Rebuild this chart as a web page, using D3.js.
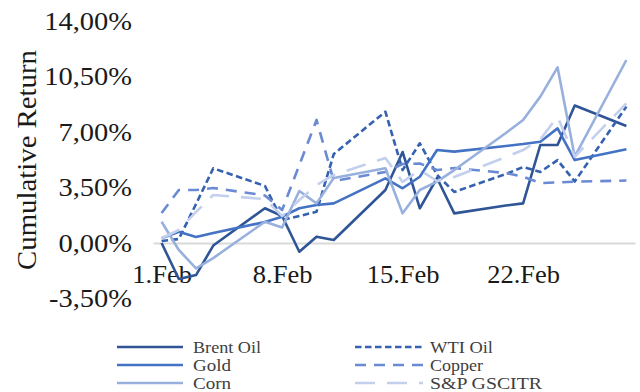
<!DOCTYPE html>
<html>
<head>
<meta charset="utf-8">
<script src="https://cdn.jsdelivr.net/npm/d3@7/dist/d3.min.js"></script>
<style>
  html, body { margin: 0; padding: 0; background: #fff; }
  svg { display: block; font-family: "Liberation Serif", "Times New Roman", Times, serif; }
</style>
</head>
<body>
<svg id="chart" width="640" height="392"></svg>
<script>
// Trading days of February 2022
const tradingDays = [
  "2022-02-01", "2022-02-02", "2022-02-03", "2022-02-04",
  "2022-02-07", "2022-02-08", "2022-02-09", "2022-02-10", "2022-02-11",
  "2022-02-14", "2022-02-15", "2022-02-16", "2022-02-17", "2022-02-18",
  "2022-02-21", "2022-02-22", "2022-02-23", "2022-02-24", "2022-02-25",
  "2022-02-28"
];

// Cumulative returns in percent
const brentOil = [0.00, -2.27, -2.02, -0.16, 2.19, 1.70, -0.55, 0.40, 0.19, 3.34,
                  5.74, 2.19, 4.10, 1.87, 2.36, 2.50, 6.18, 6.18, 8.67, 7.38];
const wtiOil   = [0.13, 0.25, 2.46, 4.71, 3.60, 1.45, 1.70, 1.97, 5.61, 8.28,
                  4.60, 6.29, 4.29, 3.22, 4.35, 4.79, 4.48, 5.23, 3.88, 8.60];
const gold     = [0.30, 0.71, 0.38, 0.63, 1.32, 1.66, 2.19, 2.40, 2.50, 4.08,
                  3.45, 4.18, 5.86, 5.76, 6.12, 6.24, 6.39, 7.23, 5.23, 5.91];
const copper   = [1.89, 3.34, 3.34, 3.47, 3.00, 2.08, 4.92, 7.76, 3.91, 4.48,
                  4.98, 5.01, 4.60, 4.73, 4.41, 4.18, 3.78, 3.82, 3.87, 3.94];
const corn     = [1.34, -0.44, -1.60, -0.95, 1.34, 0.98, 3.28, 2.50, 4.10, 4.71,
                  1.87, 3.34, 3.87, 4.60, 6.94, 7.76, 9.23, 11.08, 5.44, 11.54];
const spGscitr = [0.30, 0.82, 1.96, 3.03, 2.77, 1.70, 2.71, 3.66, 4.29, 5.36,
                  3.85, 4.60, 3.91, 4.16, 5.42, 5.86, 6.54, 7.96, 5.44, 8.81];

const seriesNames = ["Brent Oil", "WTI Oil", "Gold", "Copper", "Corn", "S&P GSCITR"];
const seriesValues = [brentOil, wtiOil, gold, copper, corn, spGscitr];
const seriesColors = ["#2f5597", "#3461b0", "#4472c4", "#6a8ad3", "#98b0de", "#c3d0ed"];
const seriesDashes = [null, "6.5,3.5", null, "11,8", null, "20,12"];

const yTicks = [-3.5, 0, 3.5, 7, 10.5, 14];
const xTickDays = ["2022-02-01", "2022-02-08", "2022-02-15", "2022-02-22"];

const parseDay = d3.timeParse("%Y-%m-%d");
const dates = tradingDays.map(parseDay);

const svg = d3.select("#chart");

// Date axis: one slot per calendar day, centred on the day
const x = d3.scaleTime()
  .domain([new Date(2022, 0, 31, 12), new Date(2022, 1, 28, 12)])
  .range([153, 635]);
const y = d3.scaleLinear().domain([-3.5, 14]).range([298.5, 21]);

const locale = d3.formatLocale({
  decimal: ",", thousands: ".", grouping: [3], currency: ["", "€"], minus: "-"
});
const fmt2 = locale.format(".2f");

// Stretch text horizontally by a factor, keeping its anchor
function widen(sel, factor) {
  sel.each(function () {
    const w = this.getComputedTextLength();
    d3.select(this)
      .attr("textLength", w * factor)
      .attr("lengthAdjust", "spacingAndGlyphs");
  });
}

// Horizontal axis along zero
const xAxis = d3.axisBottom(x)
  .tickValues(xTickDays.map(parseDay))
  .tickFormat(d3.timeFormat("%-d.%b"))
  .tickSize(0)
  .tickSizeOuter(0)
  .tickPadding(22);

const gx = svg.append("g")
  .attr("transform", `translate(0,${y(0)})`)
  .call(xAxis);
gx.attr("font-family", null);
gx.select(".domain").attr("stroke", "#d9d9d9").attr("stroke-width", 2);
gx.selectAll("text")
  .attr("fill", "#1a1a1a")
  .style("font-size", "25px")
  .call(widen, 1.06);

// Vertical axis labels
const yAxis = d3.axisLeft(y)
  .tickValues(yTicks)
  .tickFormat(v => fmt2(v) + "%")
  .tickSize(0)
  .tickPadding(0);
const gy = svg.append("g")
  .attr("transform", "translate(132,0)")
  .call(yAxis);
gy.attr("font-family", null);
gy.select(".domain").remove();
gy.selectAll("text")
  .attr("fill", "#1a1a1a")
  .style("font-size", "25px")
  .call(widen, 1.14);

// Axis title
svg.append("text")
  .attr("transform", "translate(36,160) rotate(-90)")
  .attr("text-anchor", "middle")
  .attr("fill", "#1a1a1a")
  .attr("textLength", 220)
  .attr("lengthAdjust", "spacingAndGlyphs")
  .style("font-size", "27px")
  .text("Cumulative Return");

// Series lines
const line = d3.line()
  .x((d, i) => x(dates[i]))
  .y(d => y(d));

seriesValues.forEach((vals, k) => {
  svg.append("path")
    .datum(vals)
    .attr("d", line)
    .attr("fill", "none")
    .attr("stroke", seriesColors[k])
    .attr("stroke-width", 2.6)
    .attr("stroke-linejoin", "round")
    .attr("stroke-dasharray", seriesDashes[k]);
});

// Legend in two columns
const legendCols = [{ x0: 117, x1: 183, tx: 193 }, { x0: 355, x1: 423, tx: 430 }];
const legendRows = [347, 365, 383];
const legendOrder = [[0, 1], [2, 3], [4, 5]];
const legendWidths = [68, 63, 38, 53, 38, 112];

legendOrder.forEach((pair, r) => {
  pair.forEach((k, c) => {
    const col = legendCols[c];
    const g = svg.append("g");
    g.append("line")
      .attr("x1", col.x0).attr("x2", col.x1)
      .attr("y1", legendRows[r]).attr("y2", legendRows[r])
      .attr("stroke", seriesColors[k])
      .attr("stroke-width", 2.6)
      .attr("stroke-dasharray", seriesDashes[k]);
    g.append("text")
      .attr("x", col.tx)
      .attr("y", legendRows[r] + 5.5)
      .attr("fill", "#404040")
      .attr("textLength", legendWidths[k])
      .attr("lengthAdjust", "spacingAndGlyphs")
      .style("font-size", "16px")
      .text(seriesNames[k]);
  });
});
</script>
</body>
</html>
